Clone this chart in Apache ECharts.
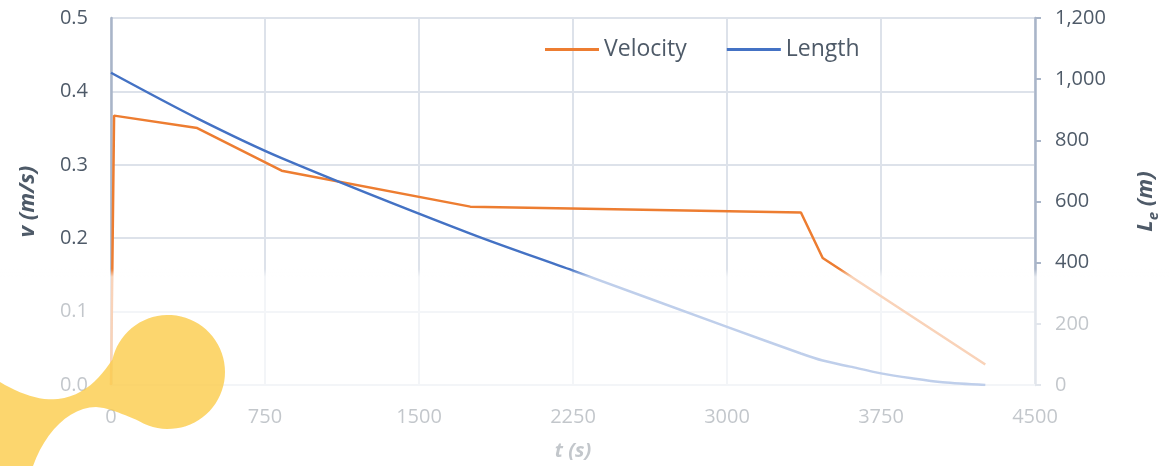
<!DOCTYPE html>
<html>
<head>
<meta charset="utf-8">
<script src="https://cdn.jsdelivr.net/npm/echarts@6/dist/echarts.min.js"></script>
<style>
  html, body { margin: 0; padding: 0; background: #fff; }
  #chart { width: 1169px; height: 466px; }
</style>
</head>
<body>
<div id="chart"></div>
<script>
// velocity curve (t in s, v in m/s)
const velocityTime = [0, 15, 420, 831, 1750, 3360, 3466, 4258];
const velocity = [0, 0.367, 0.350, 0.292, 0.243, 0.235, 0.173, 0.028];
// length curve (t in s, L_e in m)
const lengthTime = [0, 420, 831, 1750, 2250, 3000, 3360, 3466, 3600, 3750, 3900, 4050, 4258];
const lengthVals = [1021, 872, 742, 495, 374, 190, 103, 80, 60, 38, 22, 9, 0];
const xTicks = [0, 750, 1500, 2250, 3000, 3750, 4500];

const textColor = '#4e5a68';
const axisColor = '#a9b5c8';
const gridColor = '#dde2ea';
const font = 'Open Sans';

// outline of the yellow decoration in the bottom-left corner
function bezier(p0, p1, p2, p3, n) {
    const out = [];
    for (let i = 1; i <= n; i++) {
        const t = i / n, u = 1 - t;
        out.push([
            u * u * u * p0[0] + 3 * u * u * t * p1[0] + 3 * u * t * t * p2[0] + t * t * t * p3[0],
            u * u * u * p0[1] + 3 * u * u * t * p1[1] + 3 * u * t * t * p2[1] + t * t * t * p3[1]
        ]);
    }
    return out;
}
function blobPoints() {
    let pts = [[0, 382]];
    pts = pts.concat(bezier([0, 382], [20, 394], [40, 401], [58, 399], 12));
    pts = pts.concat(bezier([58, 399], [84, 396], [100, 378], [112, 360], 12));
    const cx = 168, cy = 372, r = 57;
    const a0 = Math.atan2(360 - cy, 112 - cx), a1 = Math.atan2(421 - cy, 140 - cx);
    for (let i = 0; i <= 60; i++) {
        const a = a0 + (a1 - a0) * i / 60;
        pts.push([cx + r * Math.cos(a), cy + r * Math.sin(a)]);
    }
    pts = pts.concat(bezier([140, 421], [125, 416], [112, 408], [96, 407], 12));
    pts = pts.concat(bezier([96, 407], [70, 407], [45, 432], [33, 466], 12));
    pts.push([0, 466]);
    return pts;
}

const chart = echarts.init(document.getElementById('chart'));

const options = {
    animation: false,
    grid: { left: 111, right: 127, top: 18, bottom: 80 },
    legend: {
        top: 33,
        left: 540,
        icon: 'rect',
        itemWidth: 54,
        itemHeight: 3,
        itemGap: 40,
        textStyle: { fontFamily: font, fontSize: 23, color: textColor },
        data: ['Velocity', 'Length']
    },
    xAxis: {
        type: 'value',
        min: xTicks[0],
        max: xTicks[xTicks.length - 1],
        interval: 750,
        name: 't (s)',
        nameLocation: 'middle',
        nameGap: 56,
        nameTextStyle: { fontFamily: font, fontSize: 20, fontWeight: 'bold', fontStyle: 'italic', color: textColor },
        axisLine: { show: true, lineStyle: { color: gridColor, width: 2 } },
        axisTick: { show: false },
        axisLabel: { fontFamily: font, fontSize: 20, color: textColor, margin: 22, formatter: v => String(v) },
        splitLine: { show: true, lineStyle: { color: gridColor, width: 2 } }
    },
    yAxis: [
        {
            type: 'value',
            min: 0,
            max: 0.5,
            interval: 0.1,
            position: 'left',
            name: 'v (m/s)',
            nameLocation: 'middle',
            nameRotate: 90,
            nameGap: 72,
            nameTextStyle: { fontFamily: font, fontSize: 22, fontWeight: 'bold', fontStyle: 'italic', color: textColor },
            axisLine: { show: true, lineStyle: { color: axisColor, width: 2.5 } },
            axisTick: { show: false },
            axisLabel: { fontFamily: font, fontSize: 20, color: textColor, margin: 23, formatter: v => v.toFixed(1) },
            splitLine: { show: true, lineStyle: { color: gridColor, width: 2 } }
        },
        {
            type: 'value',
            min: 0,
            max: 1200,
            interval: 200,
            position: 'right',
            name: '{a|L}{b|e}{a| (m)}',
            nameLocation: 'middle',
            nameRotate: 90,
            nameGap: 100,
            nameTextStyle: {
                fontFamily: font, fontWeight: 'bold', fontStyle: 'italic', color: textColor,
                rich: {
                    a: { fontFamily: font, fontSize: 22, fontWeight: 'bold', fontStyle: 'italic', color: textColor, verticalAlign: 'top', lineHeight: 24 },
                    b: { fontFamily: font, fontSize: 15, fontWeight: 'bold', fontStyle: 'italic', color: textColor, verticalAlign: 'top', lineHeight: 15, padding: [11, 0, 0, 0] }
                }
            },
            axisLine: { show: true, lineStyle: { color: axisColor, width: 2.5 } },
            axisTick: { show: true, length: 6, lineStyle: { color: axisColor, width: 2 } },
            axisLabel: { fontFamily: font, fontSize: 20, color: textColor, margin: 20, formatter: v => v.toLocaleString('en-US') },
            splitLine: { show: false }
        }
    ],
    series: [
        {
            name: 'Velocity',
            type: 'line',
            yAxisIndex: 0,
            symbol: 'none',
            color: '#ed7d31',
            lineStyle: { width: 2.5, color: '#ed7d31' },
            data: velocityTime.map((t, i) => [t, velocity[i]])
        },
        {
            name: 'Length',
            type: 'line',
            yAxisIndex: 1,
            symbol: 'none',
            smooth: 0.3,
            color: '#4472c4',
            lineStyle: { width: 2.5, color: '#4472c4' },
            data: lengthTime.map((t, i) => [t, lengthVals[i]])
        }
    ],
    graphic: [
        {
            type: 'rect',
            z: 100,
            silent: true,
            shape: { x: 0, y: 269, width: 1169, height: 197 },
            style: {
                fill: {
                    type: 'linear', x: 0, y: 0, x2: 0, y2: 1,
                    colorStops: [
                        { offset: 0, color: 'rgba(255,255,255,0)' },
                        { offset: 0.04, color: 'rgba(255,255,255,0.66)' },
                        { offset: 1, color: 'rgba(255,255,255,0.66)' }
                    ]
                }
            }
        },
        {
            type: 'polygon',
            z: 101,
            silent: true,
            shape: { points: blobPoints() },
            style: { fill: 'rgba(251,204,74,0.8)' }
        }
    ]
};
chart.setOption(options);
</script>
</body>
</html>
